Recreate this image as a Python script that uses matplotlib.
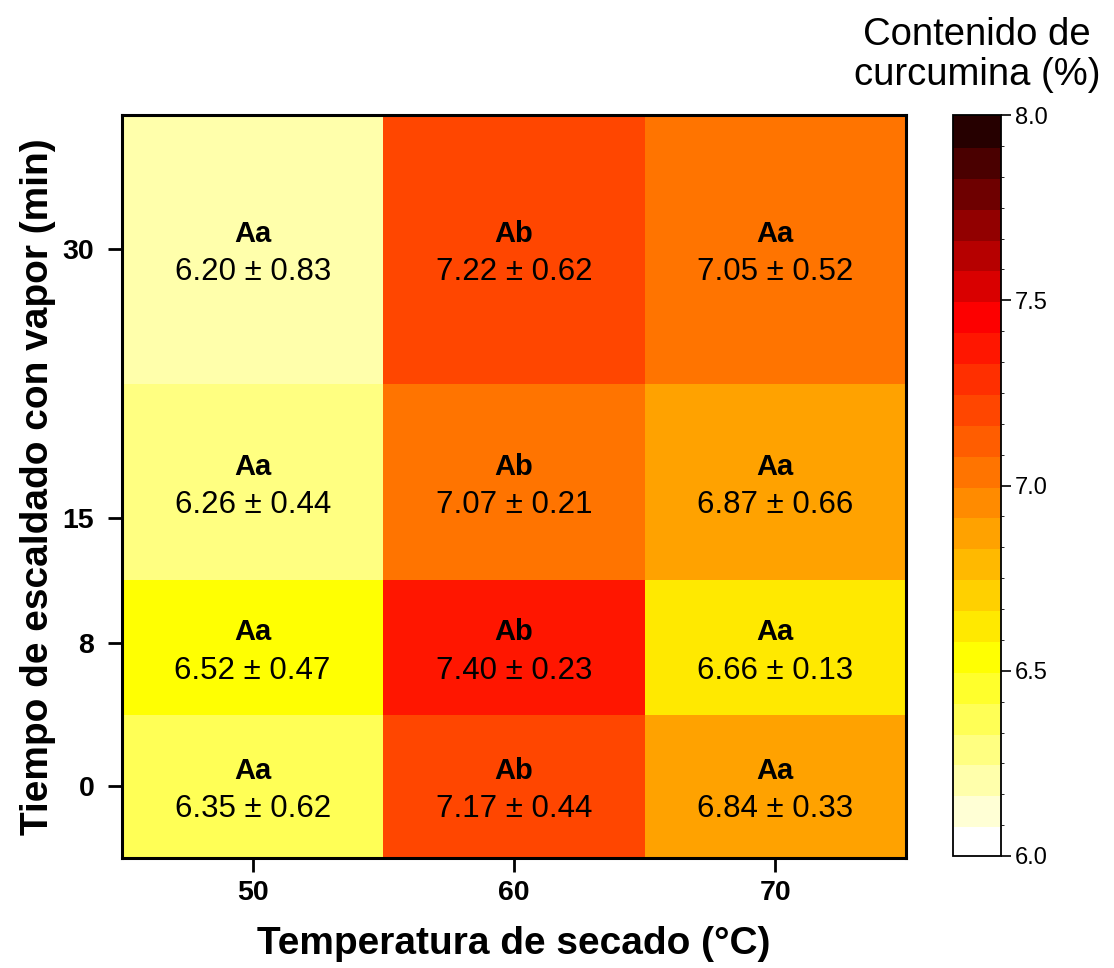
import numpy as np
import matplotlib
matplotlib.use("Agg")
import matplotlib.pyplot as plt
from matplotlib.colors import LinearSegmentedColormap, BoundaryNorm

plt.rcParams['font.family'] = ['Liberation Sans', 'DejaVu Sans']

# drying temperature (x) and steam blanching time (y)
temps = [50, 60, 70]
times = [0, 8, 15, 30]

# curcumin content (%), rows follow times, columns follow temps
means = np.array([
    [6.35, 7.17, 6.84],
    [6.52, 7.40, 6.66],
    [6.26, 7.07, 6.87],
    [6.20, 7.22, 7.05],
])
sds = np.array([
    [0.62, 0.44, 0.33],
    [0.47, 0.23, 0.13],
    [0.44, 0.21, 0.66],
    [0.83, 0.62, 0.52],
])
letters = [
    ["Aa", "Ab", "Aa"],
    ["Aa", "Ab", "Aa"],
    ["Aa", "Ab", "Aa"],
    ["Aa", "Ab", "Aa"],
]

zmin, zmax, nlev = 6.0, 8.0, 24
cbar_ticks = [6.0, 6.5, 7.0, 7.5, 8.0]


def cell_edges(v):
    v = np.asarray(v, dtype=float)
    mids = (v[:-1] + v[1:]) / 2
    return np.concatenate([[v[0] - (mids[0] - v[0])], mids, [v[-1] + (v[-1] - mids[-1])]])


ramp = LinearSegmentedColormap.from_list(
    "curc", [(0.0, "white"), (6 / 23, "yellow"), (17 / 23, "red"), (1.0, "#260000")])
cmap = matplotlib.colors.ListedColormap([ramp(i / (nlev - 1)) for i in range(nlev)])
bounds = np.linspace(zmin, zmax, nlev + 1)
norm = BoundaryNorm(bounds, cmap.N)

fig = plt.figure(figsize=(11.14, 9.68), dpi=100)
ax = fig.add_axes([122 / 1114, 1 - 858 / 968, 784 / 1114, 743 / 968])
cax = fig.add_axes([953 / 1114, 1 - 856 / 968, 48 / 1114, 741 / 968])

xe = cell_edges(temps)
ye = cell_edges(times)
mesh = ax.pcolormesh(xe, ye, means, cmap=cmap, norm=norm)
ax.set_xlim(xe[0], xe[-1])
ax.set_ylim(ye[0], ye[-1])

yc = (ye[:-1] + ye[1:]) / 2
for i in range(len(times)):
    for j in range(len(temps)):
        ax.annotate(letters[i][j], (temps[j], yc[i]), xytext=(0, 11),
                    textcoords="offset points", ha="center", va="center",
                    fontsize=21, fontweight="bold")
        ax.annotate("{:.2f} ± {:.2f}".format(means[i, j], sds[i, j]),
                    (temps[j], yc[i]), xytext=(0, -16.5),
                    textcoords="offset points", ha="center", va="center",
                    fontsize=22.5)

ax.set_xticks(temps)
ax.set_yticks(times)
ax.set_xticklabels([str(t) for t in temps], fontsize=20.5, fontweight="bold")
ax.set_yticklabels([str(t) for t in times], fontsize=20.5, fontweight="bold")
ax.tick_params(direction="out", length=10, width=2)
ax.tick_params(axis="x", pad=6)
ax.tick_params(axis="y", pad=10)
for s in ax.spines.values():
    s.set_linewidth(2.2)

ax.set_xlabel("Temperatura de secado (°C)", fontsize=28, fontweight="bold", labelpad=14)
ax.set_ylabel("Tiempo de escaldado con vapor (min)", fontsize=28, fontweight="bold", labelpad=5)

cb = fig.colorbar(mesh, cax=cax, boundaries=bounds, ticks=cbar_ticks)
cb.ax.set_yticklabels(["{:.1f}".format(t) for t in cbar_ticks], fontsize=17)
cb.ax.tick_params(length=7, width=1.2, pad=3)
cb.outline.set_linewidth(1.3)
cb.solids.set_edgecolor("face")
fig.text(977 / 1114, 1 - 55 / 968, "Contenido de\ncurcumina (%)", ha="center",
         va="center", fontsize=27.5, linespacing=1.15)

fig.savefig("out.png", dpi=100)
